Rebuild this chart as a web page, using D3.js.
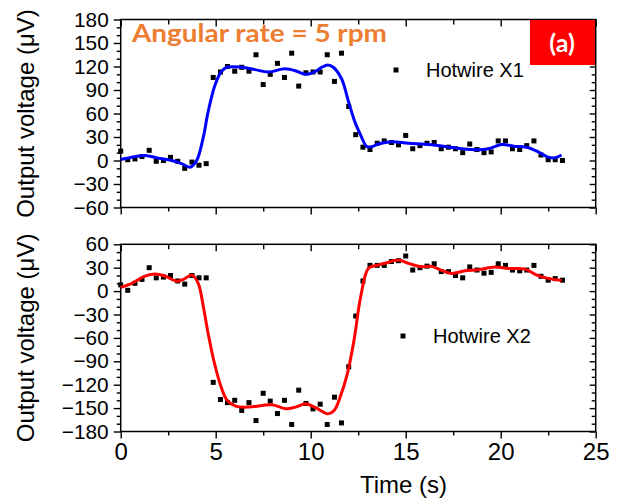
<!DOCTYPE html>
<html>
<head>
<meta charset="utf-8">
<script src="https://cdn.jsdelivr.net/npm/d3@7"></script>
<style>
  body { margin: 0; background: #fff; }
  svg { display: block; }
  .tick text { font-family: "Liberation Sans", Arial, sans-serif; font-size: 24px; fill: #000; }
  .yaxis .tick text { font-size: 20.8px; }
</style>
</head>
<body>
<div id="chart"></div>
<script>
// sample times (s), shared by both hotwires
const times = [0, 0.37, 0.75, 1.12, 1.5, 1.87, 2.25, 2.62, 3.0, 3.37, 3.75, 4.12, 4.5, 4.87,
  5.25, 5.62, 6.0, 6.37, 6.75, 7.12, 7.5, 7.87, 8.25, 8.62, 9.0, 9.37, 9.75, 10.12, 10.5,
  10.87, 11.25, 11.62, 12.0, 12.37, 12.75, 13.12, 13.5, 13.87, 14.25, 14.62, 15.0, 15.37,
  15.75, 16.12, 16.5, 16.87, 17.25, 17.62, 18.0, 18.37, 18.75, 19.12, 19.5, 19.87, 20.25,
  20.62, 21.0, 21.37, 21.75, 22.12, 22.5, 22.87, 23.25];

// measured points (uV)
const x1Values = [12, 1, 2, 5, 13, -1, 0, 4, -1, -10, -2, -6, -4, 106, 113, 120, 114, 119,
  114, 135, 97, 110, 124, 106, 137, 95, 112, 113, 113, 135, 101, 137, 69, 33, 17, 14, 22,
  25, 23, 20, 32, 15, 19, 22, 23, 15, 17, 15, 10, 21, 14, 10, 11, 25, 25, 15, 14, 19, 25,
  7, 1, 1, 0];
const x2Values = [8, 1, 10, 15, 30, 17, 18, 20, 13, 9, 20, 17, 17, -117, -139, -143, -140,
  -153, -143, -166, -131, -141, -157, -140, -171, -127, -144, -151, -145, -171, -136, -169,
  -97, -32, 13, 33, 33, 33, 38, 39, 45, 27, 30, 32, 35, 25, 25, 20, 17, 31, 27, 23, 24, 35,
  33, 27, 26, 27, 33, 19, 14, 16, 14];

// smoothed curves: [time, value]
const x1Smooth = [[0, 1.3], [0.58, 4.2], [1.28, 6.4], [1.98, 3], [2.68, 0], [3.2, -4],
  [3.65, -8.5], [4.0, 0], [4.35, 30], [4.6, 62], [4.96, 96], [5.28, 113], [5.58, 119],
  [6.37, 119], [7.07, 116], [7.77, 113], [8.65, 117], [9.26, 114], [9.7, 110],
  [10.23, 113.5], [10.58, 119], [10.9, 122], [11.19, 119], [11.63, 104], [11.98, 76],
  [12.33, 49], [12.6, 34], [12.95, 18], [13.2, 17.5], [13.56, 21], [14.26, 24], [15.14, 22],
  [16.19, 20.4], [17.07, 18], [17.95, 15], [18.82, 13.6], [19.35, 15], [20.05, 20.4],
  [20.75, 18], [21.37, 17], [21.9, 12], [22.42, 5], [22.86, 3.4], [23.2, 7]];
const x2Smooth = [[0, 4.7], [0.58, 9.9], [1.28, 19.3], [1.8, 21.8], [2.33, 19.3],
  [2.95, 12.8], [3.3, 15], [3.75, 20.5], [4.08, 9.9], [4.35, -20], [4.6, -54], [4.9, -89],
  [5.26, -121], [5.6, -140], [6.05, -147.5], [6.75, -148.7], [7.45, -146.6], [7.98, -145.7],
  [8.68, -150.8], [9.2, -148.7], [9.73, -144.4], [10.26, -149.5], [10.88, -157.2],
  [11.23, -153], [11.58, -133.7], [11.93, -105.8], [12.28, -63], [12.63, -7.3], [13.03, 29.1],
  [13.38, 32.5], [13.91, 35.6], [14.61, 39.8], [15.14, 35.6], [15.84, 31.2], [16.36, 31.7],
  [16.89, 26.6], [17.42, 22.7], [18.12, 26.1], [18.82, 27.4], [19.7, 30.8], [20.4, 29.1],
  [21.28, 28.2], [21.9, 20.5], [22.5, 16.3], [23.2, 13.7]];

const xTicks = [0, 5, 10, 15, 20, 25];
const xMinor = [2.5, 7.5, 12.5, 17.5, 22.5];
const yTicksTop = [-60, -30, 0, 30, 60, 90, 120, 150, 180];
const yTicksBottom = [-180, -150, -120, -90, -60, -30, 0, 30, 60];

const width = 623, height = 502;
const svg = d3.select('#chart').append('svg')
  .attr('width', width)
  .attr('height', height);

const x = d3.scaleLinear().domain([0, 25]).range([120.7, 595.7]);

function minorsOf(ticks) {
  const out = [];
  for (let i = 0; i < ticks.length - 1; i++) {
    const step = (ticks[i + 1] - ticks[i]) / 3;
    out.push(ticks[i] + step, ticks[i] + 2 * step);
  }
  return out;
}

// tick marks only, no labels
function ticksOnly(g, axis) {
  g.call(axis);
  g.selectAll('text').remove();
  return g;
}

function drawPanel(opts) {
  const y = d3.scaleLinear().domain(opts.domain).range(opts.range);
  const top = opts.range[1], bottom = opts.range[0];
  const left = x.range()[0], right = x.range()[1];
  const g = svg.append('g');

  // left axis, ticks out
  g.append('g').attr('class', 'yaxis').attr('transform', `translate(${left},0)`)
    .call(d3.axisLeft(y).tickValues(opts.ticks).tickSize(7).tickPadding(5));
  ticksOnly(g.append('g').attr('transform', `translate(${left},0)`),
    d3.axisLeft(y).tickValues(minorsOf(opts.ticks)).tickSize(4));
  // right axis, ticks in
  ticksOnly(g.append('g').attr('transform', `translate(${right},0)`),
    d3.axisLeft(y).tickValues(opts.ticks).tickSize(6));
  ticksOnly(g.append('g').attr('transform', `translate(${right},0)`),
    d3.axisLeft(y).tickValues(minorsOf(opts.ticks)).tickSize(4));
  // top axis, ticks in
  ticksOnly(g.append('g').attr('transform', `translate(0,${top})`),
    d3.axisBottom(x).tickValues(xTicks).tickSize(7));
  ticksOnly(g.append('g').attr('transform', `translate(0,${top})`),
    d3.axisBottom(x).tickValues(xMinor).tickSize(5));
  // bottom axis, ticks out
  const bx = g.append('g').attr('transform', `translate(0,${bottom})`)
    .call(d3.axisBottom(x).tickValues(xTicks).tickSize(7).tickPadding(4.5));
  if (!opts.xLabels) bx.selectAll('text').remove();
  ticksOnly(g.append('g').attr('transform', `translate(0,${bottom})`),
    d3.axisBottom(x).tickValues(xMinor).tickSize(4));

  g.selectAll('.domain').remove();
  g.selectAll('.tick line').attr('stroke', '#000').attr('stroke-width', 1.4);

  g.append('rect')
    .attr('x', left).attr('y', top)
    .attr('width', right - left).attr('height', bottom - top)
    .attr('fill', 'none').attr('stroke', '#000').attr('stroke-width', 1.5);

  // points
  g.append('g').selectAll('rect')
    .data(opts.values)
    .join('rect')
    .attr('x', (d, i) => x(times[i]) - 2.5)
    .attr('y', d => y(d) - 2.5)
    .attr('width', 5).attr('height', 5)
    .attr('fill', '#000');

  // smoothed curve
  g.append('path')
    .datum(opts.smooth)
    .attr('fill', 'none')
    .attr('stroke', opts.color)
    .attr('stroke-width', 3)
    .attr('stroke-linejoin', 'round')
    .attr('d', d3.line().x(d => x(d[0])).y(d => y(d[1])).curve(d3.curveCatmullRom.alpha(0.5)));

  // legend
  g.append('rect')
    .attr('x', opts.legend[0] - 2.5).attr('y', opts.legend[1] - 2.5)
    .attr('width', 5).attr('height', 5).attr('fill', '#000');
  g.append('text')
    .attr('x', opts.legend[0] + 30).attr('y', opts.legend[1] + 7)
    .attr('font-family', '"Liberation Sans", Arial, sans-serif')
    .attr('font-size', 20)
    .text(opts.label);

  // y title
  g.append('text')
    .attr('transform', `translate(34,${(top + bottom) / 2}) rotate(-90)`)
    .attr('text-anchor', 'middle')
    .attr('font-family', '"Liberation Sans", Arial, sans-serif')
    .attr('font-size', 24)
    .text('Output voltage (\u03bcV)');
  return g;
}

drawPanel({
  domain: [-60, 180], range: [207.5, 19.5], ticks: yTicksTop,
  values: x1Values, smooth: x1Smooth, color: '#0000ff',
  legend: [396, 70], label: 'Hotwire X1', xLabels: false
});
drawPanel({
  domain: [-180, 60], range: [431.5, 244.3], ticks: yTicksBottom,
  values: x2Values, smooth: x2Smooth, color: '#ff0000',
  legend: [403, 336], label: 'Hotwire X2', xLabels: true
});

svg.append('text')
  .attr('x', 360).attr('y', 493)
  .attr('font-family', '"Liberation Sans", Arial, sans-serif')
  .attr('font-size', 24)
  .text('Time (s)');

svg.append('text')
  .attr('x', 132).attr('y', 42)
  .attr('font-family', 'Lato, "Open Sans", sans-serif')
  .attr('font-weight', 'bold')
  .attr('font-size', 25)
  .attr('fill', '#ED7D31')
  .attr('textLength', 255)
  .attr('lengthAdjust', 'spacingAndGlyphs')
  .text('Angular rate = 5 rpm');

svg.append('rect')
  .attr('x', 530).attr('y', 20)
  .attr('width', 65).attr('height', 45)
  .attr('fill', '#ff0000');
svg.append('text')
  .attr('x', 562).attr('y', 52)
  .attr('text-anchor', 'middle')
  .attr('font-family', 'Lato, "Open Sans", sans-serif')
  .attr('font-weight', 'bold')
  .attr('font-size', 25)
  .attr('fill', '#fff')
  .text('(a)');
</script>
</body>
</html>
